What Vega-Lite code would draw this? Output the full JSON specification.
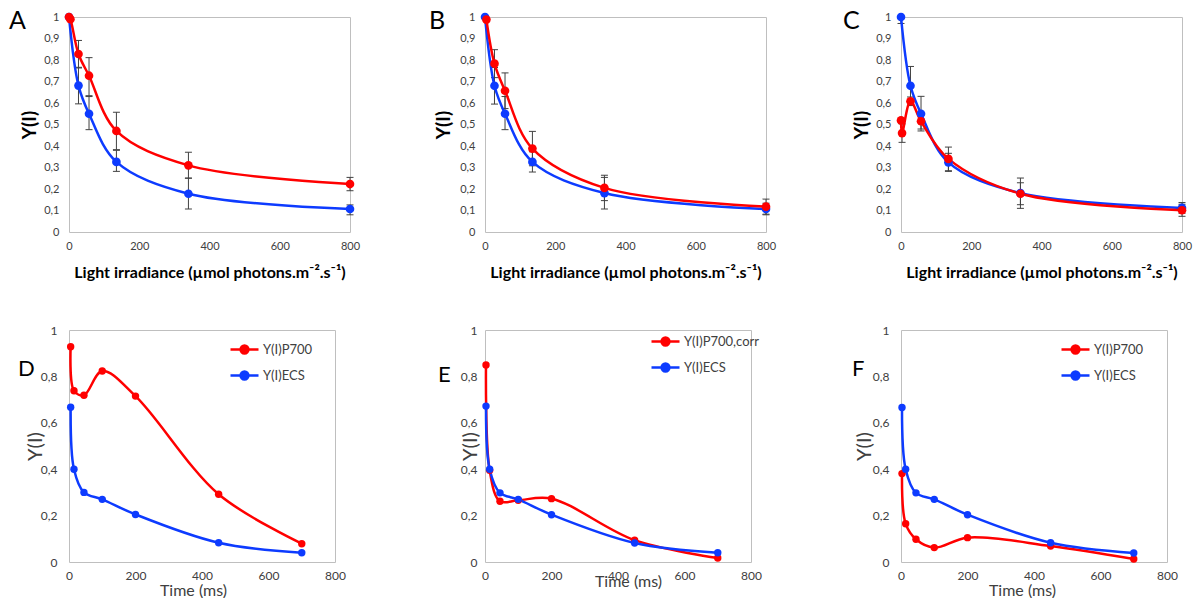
{
  "$schema": "https://vega.github.io/schema/vega-lite/v6.json",
  "background": "white",
  "padding": {"left": 8, "top": 8, "right": 0, "bottom": 0},
  "config": {
    "font": "Lato",
    "view": {"stroke": "#bfbfbf", "strokeWidth": 1},
    "axis": {"grid": false, "ticks": false, "domain": false, "labelFlush": false, "labelColor": "#404040", "titleColor": "#000000", "labelFont": "Lato", "titleFont": "Lato", "labelPadding": 8},
    "axisY": {"labelPadding": 10},
    "title": {"font": "Lato", "fontSize": 25, "fontWeight": "normal", "color": "#000000", "anchor": "start", "frame": "group", "baseline": "alphabetic", "orient": "top"},
    "legend": {"padding": 0}
  },
  "datasets": {
    "top": [
      {"panel": "A", "series": "ECS", "x": 0, "y": 1.0, "lo": null, "hi": null},
      {"panel": "A", "series": "ECS", "x": 27, "y": 0.681, "lo": 0.596, "hi": 0.766},
      {"panel": "A", "series": "ECS", "x": 57, "y": 0.55, "lo": 0.476, "hi": 0.63},
      {"panel": "A", "series": "ECS", "x": 135, "y": 0.326, "lo": 0.282, "hi": 0.38},
      {"panel": "A", "series": "ECS", "x": 340, "y": 0.178, "lo": 0.107, "hi": 0.251},
      {"panel": "A", "series": "ECS", "x": 800, "y": 0.107, "lo": 0.08, "hi": 0.126},
      {"panel": "A", "series": "P700", "x": 0, "y": 1.0, "lo": null, "hi": null},
      {"panel": "A", "series": "P700", "x": 4, "y": 0.99, "lo": null, "hi": null},
      {"panel": "A", "series": "P700", "x": 27, "y": 0.828, "lo": 0.763, "hi": 0.891},
      {"panel": "A", "series": "P700", "x": 57, "y": 0.727, "lo": 0.634, "hi": 0.811},
      {"panel": "A", "series": "P700", "x": 135, "y": 0.47, "lo": 0.383, "hi": 0.557},
      {"panel": "A", "series": "P700", "x": 340, "y": 0.31, "lo": 0.25, "hi": 0.371},
      {"panel": "A", "series": "P700", "x": 800, "y": 0.223, "lo": 0.192, "hi": 0.254},
      {"panel": "B", "series": "ECS", "x": 0, "y": 1.0, "lo": null, "hi": null},
      {"panel": "B", "series": "ECS", "x": 27, "y": 0.68, "lo": 0.595, "hi": 0.765},
      {"panel": "B", "series": "ECS", "x": 57, "y": 0.55, "lo": 0.476, "hi": 0.63},
      {"panel": "B", "series": "ECS", "x": 135, "y": 0.326, "lo": 0.279, "hi": 0.373},
      {"panel": "B", "series": "ECS", "x": 340, "y": 0.181, "lo": 0.107, "hi": 0.254},
      {"panel": "B", "series": "ECS", "x": 800, "y": 0.107, "lo": 0.08, "hi": 0.134},
      {"panel": "B", "series": "P700", "x": 4, "y": 0.988, "lo": null, "hi": null},
      {"panel": "B", "series": "P700", "x": 27, "y": 0.783, "lo": 0.718, "hi": 0.848},
      {"panel": "B", "series": "P700", "x": 57, "y": 0.657, "lo": 0.574, "hi": 0.74},
      {"panel": "B", "series": "P700", "x": 135, "y": 0.388, "lo": 0.308, "hi": 0.468},
      {"panel": "B", "series": "P700", "x": 340, "y": 0.205, "lo": 0.146, "hi": 0.264},
      {"panel": "B", "series": "P700", "x": 800, "y": 0.118, "lo": 0.083, "hi": 0.153},
      {"panel": "C", "series": "ECS", "x": 0, "y": 1.0, "lo": 0.97, "hi": 1.0},
      {"panel": "C", "series": "ECS", "x": 27, "y": 0.68, "lo": 0.59, "hi": 0.77},
      {"panel": "C", "series": "ECS", "x": 57, "y": 0.55, "lo": 0.47, "hi": 0.631},
      {"panel": "C", "series": "ECS", "x": 135, "y": 0.324, "lo": 0.282, "hi": 0.366},
      {"panel": "C", "series": "ECS", "x": 340, "y": 0.181, "lo": 0.11, "hi": 0.251},
      {"panel": "C", "series": "ECS", "x": 800, "y": 0.112, "lo": 0.087, "hi": 0.137},
      {"panel": "C", "series": "P700", "x": 0, "y": 0.519, "lo": null, "hi": null},
      {"panel": "C", "series": "P700", "x": 3, "y": 0.46, "lo": 0.417, "hi": 0.503},
      {"panel": "C", "series": "P700", "x": 27, "y": 0.608, "lo": 0.588, "hi": 0.628},
      {"panel": "C", "series": "P700", "x": 57, "y": 0.515, "lo": 0.479, "hi": 0.551},
      {"panel": "C", "series": "P700", "x": 135, "y": 0.34, "lo": 0.285, "hi": 0.395},
      {"panel": "C", "series": "P700", "x": 340, "y": 0.178, "lo": 0.127, "hi": 0.229},
      {"panel": "C", "series": "P700", "x": 800, "y": 0.101, "lo": 0.073, "hi": 0.129}
    ],
    "bottom": [
      {"panel": "D", "series": "Y(I)P700", "x": 5, "y": 0.928},
      {"panel": "D", "series": "Y(I)P700", "x": 15, "y": 0.738},
      {"panel": "D", "series": "Y(I)P700", "x": 45, "y": 0.719},
      {"panel": "D", "series": "Y(I)P700", "x": 100, "y": 0.823},
      {"panel": "D", "series": "Y(I)P700", "x": 200, "y": 0.715},
      {"panel": "D", "series": "Y(I)P700", "x": 450, "y": 0.292},
      {"panel": "D", "series": "Y(I)P700", "x": 700, "y": 0.079},
      {"panel": "D", "series": "Y(I)ECS", "x": 5, "y": 0.667},
      {"panel": "D", "series": "Y(I)ECS", "x": 15, "y": 0.4},
      {"panel": "D", "series": "Y(I)ECS", "x": 45, "y": 0.3},
      {"panel": "D", "series": "Y(I)ECS", "x": 100, "y": 0.27},
      {"panel": "D", "series": "Y(I)ECS", "x": 200, "y": 0.205},
      {"panel": "D", "series": "Y(I)ECS", "x": 450, "y": 0.083},
      {"panel": "D", "series": "Y(I)ECS", "x": 700, "y": 0.04},
      {"panel": "E", "series": "Y(I)P700,corr", "x": 3, "y": 0.849},
      {"panel": "E", "series": "Y(I)P700,corr", "x": 14, "y": 0.395},
      {"panel": "E", "series": "Y(I)P700,corr", "x": 45, "y": 0.262},
      {"panel": "E", "series": "Y(I)P700,corr", "x": 100, "y": 0.266},
      {"panel": "E", "series": "Y(I)P700,corr", "x": 200, "y": 0.273},
      {"panel": "E", "series": "Y(I)P700,corr", "x": 450, "y": 0.094},
      {"panel": "E", "series": "Y(I)P700,corr", "x": 700, "y": 0.017},
      {"panel": "E", "series": "Y(I)ECS", "x": 3, "y": 0.672},
      {"panel": "E", "series": "Y(I)ECS", "x": 14, "y": 0.4},
      {"panel": "E", "series": "Y(I)ECS", "x": 45, "y": 0.298},
      {"panel": "E", "series": "Y(I)ECS", "x": 100, "y": 0.27},
      {"panel": "E", "series": "Y(I)ECS", "x": 200, "y": 0.204},
      {"panel": "E", "series": "Y(I)ECS", "x": 450, "y": 0.082},
      {"panel": "E", "series": "Y(I)ECS", "x": 700, "y": 0.04},
      {"panel": "F", "series": "Y(I)P700", "x": 3, "y": 0.381},
      {"panel": "F", "series": "Y(I)P700", "x": 14, "y": 0.165},
      {"panel": "F", "series": "Y(I)P700", "x": 45, "y": 0.098},
      {"panel": "F", "series": "Y(I)P700", "x": 100, "y": 0.062},
      {"panel": "F", "series": "Y(I)P700", "x": 200, "y": 0.105},
      {"panel": "F", "series": "Y(I)P700", "x": 450, "y": 0.069},
      {"panel": "F", "series": "Y(I)P700", "x": 700, "y": 0.013},
      {"panel": "F", "series": "Y(I)ECS", "x": 3, "y": 0.666},
      {"panel": "F", "series": "Y(I)ECS", "x": 14, "y": 0.4},
      {"panel": "F", "series": "Y(I)ECS", "x": 45, "y": 0.298},
      {"panel": "F", "series": "Y(I)ECS", "x": 100, "y": 0.27},
      {"panel": "F", "series": "Y(I)ECS", "x": 200, "y": 0.204},
      {"panel": "F", "series": "Y(I)ECS", "x": 450, "y": 0.083},
      {"panel": "F", "series": "Y(I)ECS", "x": 700, "y": 0.039}
    ]
  },
  "concat": [
    {
      "width": 281, "height": 215,
      "title": {"text": "A", "dx": -60, "offset": -23},
      "data": {"name": "top"},
      "transform": [{"filter": "datum.panel === 'A'"}],
      "encoding": {
        "x": {"field": "x", "type": "quantitative", "scale": {"domain": [0, 800]}, "axis": {"values": [0, 200, 400, 600, 800], "title": "Light irradiance (µmol photons.m⁻².s⁻¹)", "titleFontWeight": "bold", "titleFontSize": 16, "titleY": 40, "titleBaseline": "middle", "labelFontSize": 11}},
        "y": {"field": "y", "type": "quantitative", "scale": {"domain": [0, 1]}, "axis": {"values": [0, 0.1, 0.2, 0.3, 0.4, 0.5, 0.6, 0.7, 0.8, 0.9, 1], "labelExpr": "replace(format(datum.value, '.1~f'), '.', ',')", "title": "Y(I)", "titleFontWeight": "bold", "titleFontSize": 19, "titleX": -40, "titleBaseline": "middle", "labelFontSize": 11}},
        "color": {"field": "series", "type": "nominal", "scale": {"domain": ["ECS", "P700"], "range": ["#0d3bff", "#ff0000"]}, "legend": null}
      },
      "layer": [
        {"transform": [{"filter": "datum.lo != null"}], "mark": {"type": "rule", "color": "#404040", "strokeWidth": 1}, "encoding": {"y": {"field": "lo", "type": "quantitative", "title": "Y(I)"}, "y2": {"field": "hi"}, "color": {"value": "#404040"}}},
        {"transform": [{"filter": "datum.lo != null"}], "mark": {"type": "tick", "orient": "horizontal", "size": 7, "thickness": 1, "color": "#404040", "opacity": 1}, "encoding": {"y": {"field": "lo", "type": "quantitative", "title": "Y(I)"}, "color": {"value": "#404040"}}},
        {"transform": [{"filter": "datum.lo != null"}], "mark": {"type": "tick", "orient": "horizontal", "size": 7, "thickness": 1, "color": "#404040", "opacity": 1}, "encoding": {"y": {"field": "hi", "type": "quantitative", "title": "Y(I)"}, "color": {"value": "#404040"}}},
        {"mark": {"type": "line", "interpolate": "catmull-rom", "strokeWidth": 2.5}},
        {"mark": {"type": "circle", "size": 75, "opacity": 1}}
      ]
    },
    {
      "width": 281, "height": 215,
      "title": {"text": "B", "dx": -56, "offset": -23},
      "data": {"name": "top"},
      "transform": [{"filter": "datum.panel === 'B'"}],
      "encoding": {
        "x": {"field": "x", "type": "quantitative", "scale": {"domain": [0, 800]}, "axis": {"values": [0, 200, 400, 600, 800], "title": "Light irradiance (µmol photons.m⁻².s⁻¹)", "titleFontWeight": "bold", "titleFontSize": 16, "titleY": 40, "titleBaseline": "middle", "labelFontSize": 11}},
        "y": {"field": "y", "type": "quantitative", "scale": {"domain": [0, 1]}, "axis": {"values": [0, 0.1, 0.2, 0.3, 0.4, 0.5, 0.6, 0.7, 0.8, 0.9, 1], "labelExpr": "replace(format(datum.value, '.1~f'), '.', ',')", "title": "Y(I)", "titleFontWeight": "bold", "titleFontSize": 19, "titleX": -42, "titleBaseline": "middle", "labelFontSize": 11}},
        "color": {"field": "series", "type": "nominal", "scale": {"domain": ["ECS", "P700"], "range": ["#0d3bff", "#ff0000"]}, "legend": null}
      },
      "layer": [
        {"transform": [{"filter": "datum.lo != null"}], "mark": {"type": "rule", "color": "#404040", "strokeWidth": 1}, "encoding": {"y": {"field": "lo", "type": "quantitative", "title": "Y(I)"}, "y2": {"field": "hi"}, "color": {"value": "#404040"}}},
        {"transform": [{"filter": "datum.lo != null"}], "mark": {"type": "tick", "orient": "horizontal", "size": 7, "thickness": 1, "color": "#404040", "opacity": 1}, "encoding": {"y": {"field": "lo", "type": "quantitative", "title": "Y(I)"}, "color": {"value": "#404040"}}},
        {"transform": [{"filter": "datum.lo != null"}], "mark": {"type": "tick", "orient": "horizontal", "size": 7, "thickness": 1, "color": "#404040", "opacity": 1}, "encoding": {"y": {"field": "hi", "type": "quantitative", "title": "Y(I)"}, "color": {"value": "#404040"}}},
        {"mark": {"type": "line", "interpolate": "catmull-rom", "strokeWidth": 2.5}},
        {"mark": {"type": "circle", "size": 75, "opacity": 1}}
      ]
    },
    {
      "width": 281, "height": 215,
      "title": {"text": "C", "dx": -58, "offset": -23},
      "data": {"name": "top"},
      "transform": [{"filter": "datum.panel === 'C'"}],
      "encoding": {
        "x": {"field": "x", "type": "quantitative", "scale": {"domain": [0, 800]}, "axis": {"values": [0, 200, 400, 600, 800], "title": "Light irradiance (µmol photons.m⁻².s⁻¹)", "titleFontWeight": "bold", "titleFontSize": 16, "titleY": 40, "titleBaseline": "middle", "labelFontSize": 11}},
        "y": {"field": "y", "type": "quantitative", "scale": {"domain": [0, 1]}, "axis": {"values": [0, 0.1, 0.2, 0.3, 0.4, 0.5, 0.6, 0.7, 0.8, 0.9, 1], "labelExpr": "replace(format(datum.value, '.1~f'), '.', ',')", "title": "Y(I)", "titleFontWeight": "bold", "titleFontSize": 19, "titleX": -40, "titleBaseline": "middle", "labelFontSize": 11}},
        "color": {"field": "series", "type": "nominal", "scale": {"domain": ["ECS", "P700"], "range": ["#0d3bff", "#ff0000"]}, "legend": null}
      },
      "layer": [
        {"transform": [{"filter": "datum.lo != null"}], "mark": {"type": "rule", "color": "#404040", "strokeWidth": 1}, "encoding": {"y": {"field": "lo", "type": "quantitative", "title": "Y(I)"}, "y2": {"field": "hi"}, "color": {"value": "#404040"}}},
        {"transform": [{"filter": "datum.lo != null"}], "mark": {"type": "tick", "orient": "horizontal", "size": 7, "thickness": 1, "color": "#404040", "opacity": 1}, "encoding": {"y": {"field": "lo", "type": "quantitative", "title": "Y(I)"}, "color": {"value": "#404040"}}},
        {"transform": [{"filter": "datum.lo != null"}], "mark": {"type": "tick", "orient": "horizontal", "size": 7, "thickness": 1, "color": "#404040", "opacity": 1}, "encoding": {"y": {"field": "hi", "type": "quantitative", "title": "Y(I)"}, "color": {"value": "#404040"}}},
        {"mark": {"type": "line", "interpolate": "catmull-rom", "strokeWidth": 2.5}},
        {"mark": {"type": "circle", "size": 75, "opacity": 1}}
      ]
    },
    {
      "width": 266, "height": 232,
      "title": {"text": "D", "dx": -51, "offset": -57, "fontSize": 22},
      "data": {"name": "bottom"},
      "transform": [{"filter": "datum.panel === 'D'"}],
      "encoding": {
        "x": {"field": "x", "type": "quantitative", "scale": {"domain": [0, 800]}, "axis": {"values": [0, 200, 400, 600, 800], "title": "Time (ms)", "titleFontWeight": "normal", "titleFontSize": 16, "titleColor": "#404040", "titleX": 124, "titleY": 28, "titleBaseline": "middle", "labelFontSize": 12}},
        "y": {"field": "y", "type": "quantitative", "scale": {"domain": [0, 1]}, "axis": {"values": [0, 0.2, 0.4, 0.6, 0.8, 1], "labelExpr": "replace(format(datum.value, '.1~f'), '.', ',')", "title": "Y(I)", "titleFontWeight": "normal", "titleFontSize": 20, "titleColor": "#404040", "titleX": -34, "titleBaseline": "middle", "labelFontSize": 12, "labelPadding": 12}},
        "color": {"field": "series", "type": "nominal", "scale": {"domain": ["Y(I)P700", "Y(I)ECS"], "range": ["#ff0000", "#0d3bff"]}, "legend": {"title": null, "orient": "none", "legendX": 160, "legendY": 4, "symbolType": "M-1,0L1,0M0.28,0A0.28,0.28,0,1,1,-0.28,0A0.28,0.28,0,1,1,0.28,0Z", "symbolSize": 784, "symbolStrokeWidth": 2.5, "labelFont": "Lato", "labelFontSize": 13, "labelColor": "#404040", "labelOffset": 3, "rowPadding": 1, "encode": {"symbols": {"update": {"fill": {"signal": "datum.value === 'Y(I)ECS' ? '#0d3bff' : '#ff0000'"}, "stroke": {"signal": "datum.value === 'Y(I)ECS' ? '#0d3bff' : '#ff0000'"}, "opacity": {"value": 1}}}}}}
      },
      "layer": [
        {"mark": {"type": "line", "interpolate": "catmull-rom", "strokeWidth": 2.5}},
        {"mark": {"type": "circle", "size": 55, "opacity": 1}}
      ]
    },
    {
      "width": 266, "height": 232,
      "title": {"text": "E", "dx": -47, "offset": -63, "fontSize": 22},
      "data": {"name": "bottom"},
      "transform": [{"filter": "datum.panel === 'E'"}],
      "encoding": {
        "x": {"field": "x", "type": "quantitative", "scale": {"domain": [0, 800]}, "axis": {"values": [0, 200, 400, 600, 800], "title": "Time (ms)", "titleFontWeight": "normal", "titleFontSize": 16, "titleColor": "#404040", "titleX": 143, "titleY": 19, "titleBaseline": "middle", "labelFontSize": 12}},
        "y": {"field": "y", "type": "quantitative", "scale": {"domain": [0, 1]}, "axis": {"values": [0, 0.2, 0.4, 0.6, 0.8, 1], "labelExpr": "replace(format(datum.value, '.1~f'), '.', ',')", "title": "Y(I)", "titleFontWeight": "normal", "titleFontSize": 20, "titleColor": "#404040", "titleX": -15, "titleBaseline": "middle", "labelFontSize": 12, "labelPadding": 8}},
        "color": {"field": "series", "type": "nominal", "scale": {"domain": ["Y(I)P700,corr", "Y(I)ECS"], "range": ["#ff0000", "#0d3bff"]}, "legend": {"title": null, "orient": "none", "legendX": 165, "legendY": -4, "symbolType": "M-1,0L1,0M0.28,0A0.28,0.28,0,1,1,-0.28,0A0.28,0.28,0,1,1,0.28,0Z", "symbolSize": 784, "symbolStrokeWidth": 2.5, "labelFont": "Lato", "labelFontSize": 13, "labelColor": "#404040", "labelOffset": 3, "rowPadding": 1, "encode": {"symbols": {"update": {"fill": {"signal": "datum.value === 'Y(I)ECS' ? '#0d3bff' : '#ff0000'"}, "stroke": {"signal": "datum.value === 'Y(I)ECS' ? '#0d3bff' : '#ff0000'"}, "opacity": {"value": 1}}}}}}
      },
      "layer": [
        {"mark": {"type": "line", "interpolate": "catmull-rom", "strokeWidth": 2.5}},
        {"mark": {"type": "circle", "size": 55, "opacity": 1}}
      ]
    },
    {
      "width": 266, "height": 232,
      "title": {"text": "F", "dx": -49, "offset": -57, "fontSize": 22},
      "data": {"name": "bottom"},
      "transform": [{"filter": "datum.panel === 'F'"}],
      "encoding": {
        "x": {"field": "x", "type": "quantitative", "scale": {"domain": [0, 800]}, "axis": {"values": [0, 200, 400, 600, 800], "title": "Time (ms)", "titleFontWeight": "normal", "titleFontSize": 16, "titleColor": "#404040", "titleX": 121, "titleY": 28, "titleBaseline": "middle", "labelFontSize": 12}},
        "y": {"field": "y", "type": "quantitative", "scale": {"domain": [0, 1]}, "axis": {"values": [0, 0.2, 0.4, 0.6, 0.8, 1], "labelExpr": "replace(format(datum.value, '.1~f'), '.', ',')", "title": "Y(I)", "titleFontWeight": "normal", "titleFontSize": 20, "titleColor": "#404040", "titleX": -37, "titleBaseline": "middle", "labelFontSize": 12, "labelPadding": 12}},
        "color": {"field": "series", "type": "nominal", "scale": {"domain": ["Y(I)P700", "Y(I)ECS"], "range": ["#ff0000", "#0d3bff"]}, "legend": {"title": null, "orient": "none", "legendX": 159, "legendY": 4, "symbolType": "M-1,0L1,0M0.28,0A0.28,0.28,0,1,1,-0.28,0A0.28,0.28,0,1,1,0.28,0Z", "symbolSize": 784, "symbolStrokeWidth": 2.5, "labelFont": "Lato", "labelFontSize": 13, "labelColor": "#404040", "labelOffset": 3, "rowPadding": 1, "encode": {"symbols": {"update": {"fill": {"signal": "datum.value === 'Y(I)ECS' ? '#0d3bff' : '#ff0000'"}, "stroke": {"signal": "datum.value === 'Y(I)ECS' ? '#0d3bff' : '#ff0000'"}, "opacity": {"value": 1}}}}}}
      },
      "layer": [
        {"mark": {"type": "line", "interpolate": "catmull-rom", "strokeWidth": 2.5}},
        {"mark": {"type": "circle", "size": 55, "opacity": 1}}
      ]
    }
  ],
  "columns": 3,
  "spacing": {"row": 98, "column": 135},
  "bounds": "flush",
  "resolve": {"scale": {"color": "independent"}, "legend": {"color": "independent"}}
}
